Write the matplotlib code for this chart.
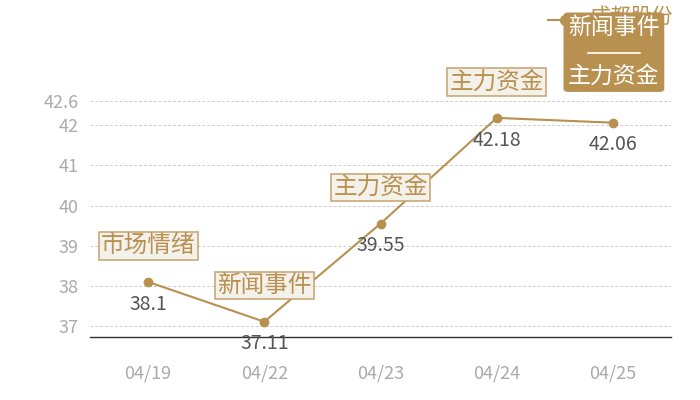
import matplotlib.pyplot as plt
from matplotlib.lines import Line2D
from matplotlib.patches import FancyBboxPatch

plt.rcParams['font.family'] = ['Noto Sans CJK SC', 'DejaVu Sans']

# data
dates = ["04/19", "04/22", "04/23", "04/24", "04/25"]
prices = [38.1, 37.11, 39.55, 42.18, 42.06]
events = ["市场情绪", "新闻事件", "主力资金", "主力资金", None]
yticks = [37, 38, 39, 40, 41, 42, 42.6]
series_name = "成都股份"
tip_top = "新闻事件"
tip_bottom = "主力资金"

gold = "#b8904f"
box_face = "#f4f0ea"
box_edge = "#c9a877"

fig = plt.figure(figsize=(7, 4), dpi=100)
ax = fig.add_axes([0.1286, 0.1575, 0.83, 0.59])

x = list(range(len(dates)))
ax.plot(x, prices, color=gold, lw=1.5, marker="o", ms=6, zorder=3)

for i, (v, ev) in enumerate(zip(prices, events)):
    ax.annotate(f"{v:g}", (i, v), xytext=(0, -16), textcoords="offset points",
                ha="center", va="center", fontsize=14, color="#555555")
    if ev:
        ax.annotate(ev, (i, v), xytext=(0, 26), textcoords="offset points",
                    ha="center", va="center", fontsize=17, color=gold, zorder=5,
                    bbox=dict(boxstyle="square,pad=0.1", fc=box_face, ec=box_edge, lw=1.2))

ax.set_xlim(-0.5, 4.5)
ax.set_ylim(36.73, 42.6)
ax.set_xticks(x)
ax.set_xticklabels(dates)
ax.set_yticks(yticks)
ax.set_yticklabels([f"{t:g}" for t in yticks])
ax.tick_params(axis="both", length=0, labelsize=13, colors="#aaaaaa")
ax.tick_params(axis="x", pad=20)
ax.tick_params(axis="y", pad=8)
ax.grid(axis="y", color="#cccccc", ls=(0, (3, 2)), lw=0.7)
for s in ["top", "right", "left"]:
    ax.spines[s].set_visible(False)
ax.spines["bottom"].set_color("#333333")
ax.spines["bottom"].set_linewidth(1)

# legend at top right (partly covered by the tooltip)
fig.add_artist(Line2D([0.783, 0.83], [0.95, 0.95], color=gold, lw=1.5))
fig.add_artist(Line2D([0.807], [0.95], color=gold, marker="o", ms=7))
fig.text(0.842, 0.958, series_name, fontsize=15, color=gold, va="center", ha="left")

# tooltip
fig.add_artist(FancyBboxPatch((0.806, 0.772), 0.142, 0.195,
                              boxstyle="round,pad=0,rounding_size=0.006",
                              fc=gold, ec=gold, zorder=9, transform=fig.transFigure))
fig.text(0.877, 0.93, tip_top, fontsize=16.5, color="white", ha="center", va="center", zorder=10)
fig.add_artist(Line2D([0.84, 0.914], [0.868, 0.868], color="white", lw=1.2, zorder=10))
fig.text(0.877, 0.81, tip_bottom, fontsize=16.5, color="white", ha="center", va="center", zorder=10)

fig.savefig("out.png", dpi=100)
